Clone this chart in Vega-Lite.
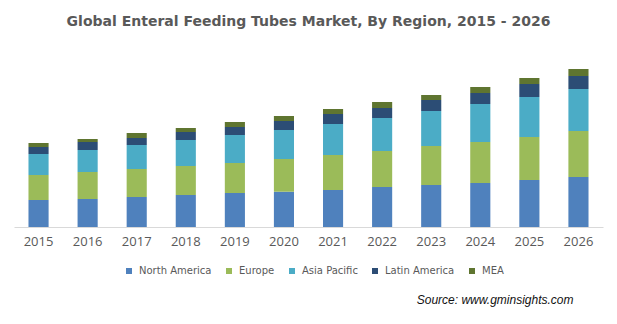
{
  "$schema": "https://vega.github.io/schema/vega-lite/v6.json",
  "width": 589,
  "height": 177,
  "autosize": "none",
  "padding": {"left": 14, "top": 50, "right": 14, "bottom": 97},
  "background": "white",
  "title": {
    "text": "Global Enteral Feeding Tubes Market, By Region, 2015 - 2026",
    "font": "DejaVu Sans",
    "fontSize": 14,
    "fontWeight": "bold",
    "color": "#595959",
    "anchor": "middle",
    "baseline": "alphabetic",
    "offset": 10
  },
  "config": {"view": {"stroke": null}},
  "data": {
    "values": [
      {"year": "2015", "region": "North America", "k": 1, "value": 27},
      {"year": "2015", "region": "Europe", "k": 2, "value": 25},
      {"year": "2015", "region": "Asia Pacific", "k": 3, "value": 21},
      {"year": "2015", "region": "Latin America", "k": 4, "value": 7},
      {"year": "2015", "region": "MEA", "k": 5, "value": 4},
      {"year": "2016", "region": "North America", "k": 1, "value": 28},
      {"year": "2016", "region": "Europe", "k": 2, "value": 27},
      {"year": "2016", "region": "Asia Pacific", "k": 3, "value": 22},
      {"year": "2016", "region": "Latin America", "k": 4, "value": 8},
      {"year": "2016", "region": "MEA", "k": 5, "value": 3},
      {"year": "2017", "region": "North America", "k": 1, "value": 30},
      {"year": "2017", "region": "Europe", "k": 2, "value": 28},
      {"year": "2017", "region": "Asia Pacific", "k": 3, "value": 24},
      {"year": "2017", "region": "Latin America", "k": 4, "value": 7},
      {"year": "2017", "region": "MEA", "k": 5, "value": 5},
      {"year": "2018", "region": "North America", "k": 1, "value": 32},
      {"year": "2018", "region": "Europe", "k": 2, "value": 29},
      {"year": "2018", "region": "Asia Pacific", "k": 3, "value": 26},
      {"year": "2018", "region": "Latin America", "k": 4, "value": 8},
      {"year": "2018", "region": "MEA", "k": 5, "value": 4},
      {"year": "2019", "region": "North America", "k": 1, "value": 34},
      {"year": "2019", "region": "Europe", "k": 2, "value": 30},
      {"year": "2019", "region": "Asia Pacific", "k": 3, "value": 28},
      {"year": "2019", "region": "Latin America", "k": 4, "value": 8},
      {"year": "2019", "region": "MEA", "k": 5, "value": 5},
      {"year": "2020", "region": "North America", "k": 1, "value": 35.3},
      {"year": "2020", "region": "Europe", "k": 2, "value": 32.7},
      {"year": "2020", "region": "Asia Pacific", "k": 3, "value": 29},
      {"year": "2020", "region": "Latin America", "k": 4, "value": 9},
      {"year": "2020", "region": "MEA", "k": 5, "value": 5},
      {"year": "2021", "region": "North America", "k": 1, "value": 37},
      {"year": "2021", "region": "Europe", "k": 2, "value": 35},
      {"year": "2021", "region": "Asia Pacific", "k": 3, "value": 31},
      {"year": "2021", "region": "Latin America", "k": 4, "value": 10},
      {"year": "2021", "region": "MEA", "k": 5, "value": 5},
      {"year": "2022", "region": "North America", "k": 1, "value": 40},
      {"year": "2022", "region": "Europe", "k": 2, "value": 36},
      {"year": "2022", "region": "Asia Pacific", "k": 3, "value": 33},
      {"year": "2022", "region": "Latin America", "k": 4, "value": 10},
      {"year": "2022", "region": "MEA", "k": 5, "value": 6},
      {"year": "2023", "region": "North America", "k": 1, "value": 42},
      {"year": "2023", "region": "Europe", "k": 2, "value": 39},
      {"year": "2023", "region": "Asia Pacific", "k": 3, "value": 35},
      {"year": "2023", "region": "Latin America", "k": 4, "value": 11},
      {"year": "2023", "region": "MEA", "k": 5, "value": 5},
      {"year": "2024", "region": "North America", "k": 1, "value": 44},
      {"year": "2024", "region": "Europe", "k": 2, "value": 41},
      {"year": "2024", "region": "Asia Pacific", "k": 3, "value": 38},
      {"year": "2024", "region": "Latin America", "k": 4, "value": 11},
      {"year": "2024", "region": "MEA", "k": 5, "value": 6},
      {"year": "2025", "region": "North America", "k": 1, "value": 47},
      {"year": "2025", "region": "Europe", "k": 2, "value": 43},
      {"year": "2025", "region": "Asia Pacific", "k": 3, "value": 40},
      {"year": "2025", "region": "Latin America", "k": 4, "value": 13},
      {"year": "2025", "region": "MEA", "k": 5, "value": 6},
      {"year": "2026", "region": "North America", "k": 1, "value": 50},
      {"year": "2026", "region": "Europe", "k": 2, "value": 46},
      {"year": "2026", "region": "Asia Pacific", "k": 3, "value": 42},
      {"year": "2026", "region": "Latin America", "k": 4, "value": 13},
      {"year": "2026", "region": "MEA", "k": 5, "value": 7}
    ]
  },
  "mark": {"type": "bar"},
  "encoding": {
    "x": {
      "field": "year",
      "type": "ordinal",
      "scale": {"paddingInner": 0.59, "paddingOuter": 0.295},
      "axis": {
        "labelAngle": 0,
        "ticks": false,
        "domainColor": "#D9D9D9",
        "domainWidth": 1,
        "labelFont": "Open Sans",
        "labelFontSize": 13,
        "labelColor": "#595959",
        "labelPadding": 8,
        "title": "Source: www.gminsights.com",
        "titleFont": "Liberation Sans",
        "titleFontStyle": "italic",
        "titleFontWeight": "normal",
        "titleFontSize": 12,
        "titleColor": "#111111",
        "titleAlign": "right",
        "titleAnchor": null,
        "titleX": 559,
        "titleY": 76,
        "titleBaseline": "alphabetic"
      }
    },
    "y": {
      "field": "value",
      "type": "quantitative",
      "stack": "zero",
      "scale": {"domain": [0, 177], "nice": false},
      "axis": null
    },
    "color": {
      "field": "region",
      "type": "nominal",
      "scale": {
        "domain": ["North America", "Europe", "Asia Pacific", "Latin America", "MEA"],
        "range": ["#4F81BD", "#9BBB59", "#4BACC6", "#2C4D75", "#5F7530"]
      },
      "legend": {
        "title": null,
        "orient": "none",
        "direction": "horizontal",
        "legendX": 110,
        "legendY": 216,
        "symbolType": "square",
        "symbolSize": 36,
        "symbolStrokeWidth": 0,
        "labelFont": "DejaVu Sans",
        "labelFontSize": 10,
        "labelColor": "#595959",
        "labelOffset": 5,
        "columnPadding": 12
      }
    },
    "order": {"field": "k", "type": "quantitative", "sort": "ascending"}
  }
}
